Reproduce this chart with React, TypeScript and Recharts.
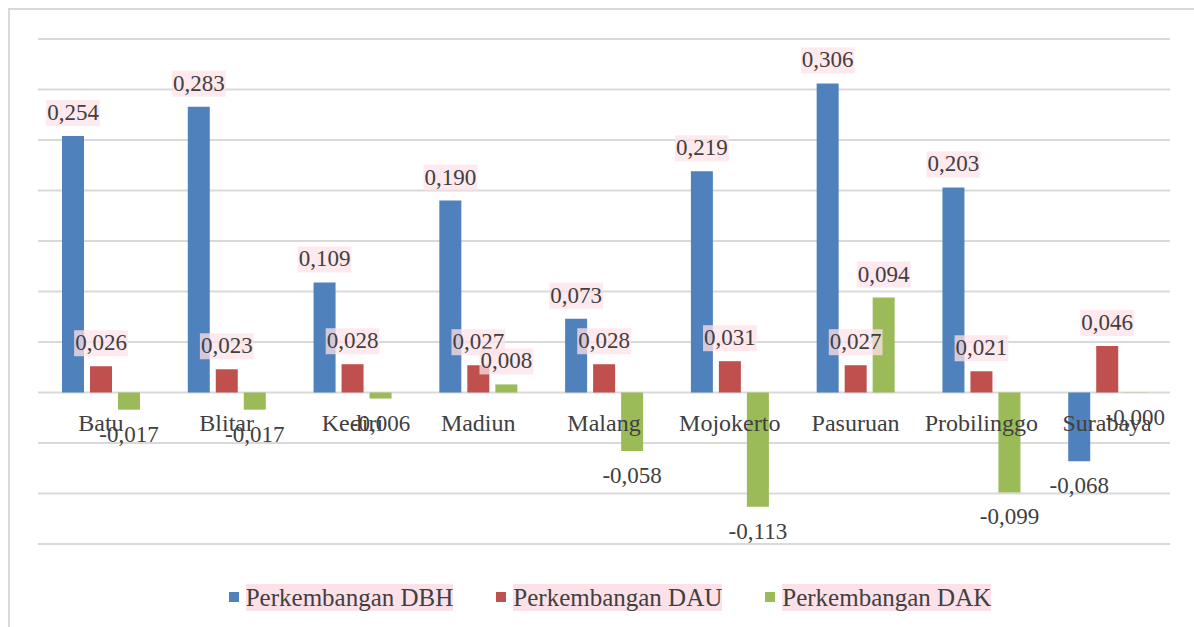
import { BarChart, Bar, XAxis, YAxis, CartesianGrid, Legend, LabelList } from 'recharts';

const categories = ['Batu', 'Blitar', 'Kediri', 'Madiun', 'Malang', 'Mojokerto', 'Pasuruan', 'Probilinggo', 'Surabaya'];
const dbhValues = [0.254, 0.283, 0.109, 0.19, 0.073, 0.219, 0.306, 0.203, -0.068];
const dauValues = [0.026, 0.023, 0.028, 0.027, 0.028, 0.031, 0.027, 0.021, 0.046];
const dakValues = [-0.017, -0.017, -0.006, 0.008, -0.058, -0.113, 0.094, -0.099, -0.0002];
const seriesNames = ['Perkembangan DBH', 'Perkembangan DAU', 'Perkembangan DAK'];
const yTicks = [-0.15, -0.1, -0.05, 0, 0.05, 0.1, 0.15, 0.2, 0.25, 0.3, 0.35];

const COLORS = ['#4F81BD', '#C0504D', '#9BBB59'];
const PINK = '#fde1e8';
const TEXT = '#404040';
const FONT = "'Liberation Serif', 'Times New Roman', serif";

const W = 1176;
const H = 600;
const X_AXIS_H = 2;
const MARGIN = { top: 29, right: 16, left: 28, bottom: 36 };
const LEGEND_H = 28;
const Y_MIN = -0.15;
const Y_MAX = 0.35;
const PLOT_H = H - MARGIN.top - MARGIN.bottom - LEGEND_H - X_AXIS_H;

const data = categories.map((c, i) => ({
  name: c,
  dbh: dbhValues[i],
  dau: dauValues[i],
  dak: dakValues[i],
}));

const fmt = (v: number) => v.toFixed(3).replace('.', ',');

// rough text width for Liberation Serif
const textWidth = (s: string, size: number) =>
  s.split('').reduce((w, ch) => w + (ch === ',' ? 0.25 : ch === '-' ? 0.333 : 0.5), 0) * size;

function ValueLabel(props: any) {
  const { x, y, width, height, value } = props;
  const v = Number(value);
  const top = Math.min(y, y + height);
  const bottom = Math.max(y, y + height);
  const cx = x + width / 2;
  const text = fmt(v);
  const positive = v >= 0;
  const ty = positive ? top - 16 : bottom + 32;
  const w = textWidth(text, 23);
  return (
    <g>
      {positive && <rect x={cx - w / 2 - 1} y={ty - 20} width={w + 2} height={26} fill={PINK} opacity={0.75} />}
      <text x={cx} y={ty} textAnchor="middle" fontSize={23} fill={TEXT} fontFamily={FONT}>
        {text}
      </text>
    </g>
  );
}

function CategoryTick(props: any) {
  const { x, y, payload } = props;
  // y is the bottom of the plot; shift up to sit just under the zero line
  const zeroFromBottom = (PLOT_H * (0 - Y_MIN)) / (Y_MAX - Y_MIN);
  return (
    <text x={x} y={y - zeroFromBottom + 38} textAnchor="middle" fontSize={24} fill={TEXT} fontFamily={FONT}>
      {payload.value}
    </text>
  );
}

function LegendContent() {
  return (
    <div style={{ display: 'flex', justifyContent: 'center', gap: 43, paddingLeft: 24, height: LEGEND_H, alignItems: 'center' }}>
      {seriesNames.map((n, i) => (
        <div key={n} style={{ display: 'flex', alignItems: 'center' }}>
          <span style={{ width: 10, height: 10, background: COLORS[i], marginRight: 7, display: 'inline-block' }} />
          <span style={{ background: PINK, color: TEXT, fontSize: 25, fontFamily: FONT, lineHeight: '27px' }}>{n}</span>
        </div>
      ))}
    </div>
  );
}

export default function App() {
  return (
    <div style={{ position: 'fixed', left: 8, top: 8, width: 1186, height: 619, borderTop: '2px solid #d9d9d9', borderLeft: '2px solid #d9d9d9', boxSizing: 'border-box', background: '#fff' }}>
      <BarChart width={W} height={H} data={data} margin={MARGIN} barSize={22} barGap={6}>
        <CartesianGrid vertical={false} stroke="#d9d9d9" strokeWidth={2} />
        <YAxis hide domain={[Y_MIN, Y_MAX]} ticks={yTicks} type="number" allowDataOverflow />
        <XAxis dataKey="name" axisLine={false} tickLine={false} tickSize={0} tickMargin={0} height={X_AXIS_H} interval={0} tick={<CategoryTick />} />
        <Legend verticalAlign="bottom" content={<LegendContent />} wrapperStyle={{ top: 573, left: 0, width: W }} />
        <Bar dataKey="dbh" name={seriesNames[0]} fill={COLORS[0]} isAnimationActive={false}>
          <LabelList dataKey="dbh" content={<ValueLabel />} />
        </Bar>
        <Bar dataKey="dau" name={seriesNames[1]} fill={COLORS[1]} isAnimationActive={false}>
          <LabelList dataKey="dau" content={<ValueLabel />} />
        </Bar>
        <Bar dataKey="dak" name={seriesNames[2]} fill={COLORS[2]} isAnimationActive={false}>
          <LabelList dataKey="dak" content={<ValueLabel />} />
        </Bar>
      </BarChart>
    </div>
  );
}
